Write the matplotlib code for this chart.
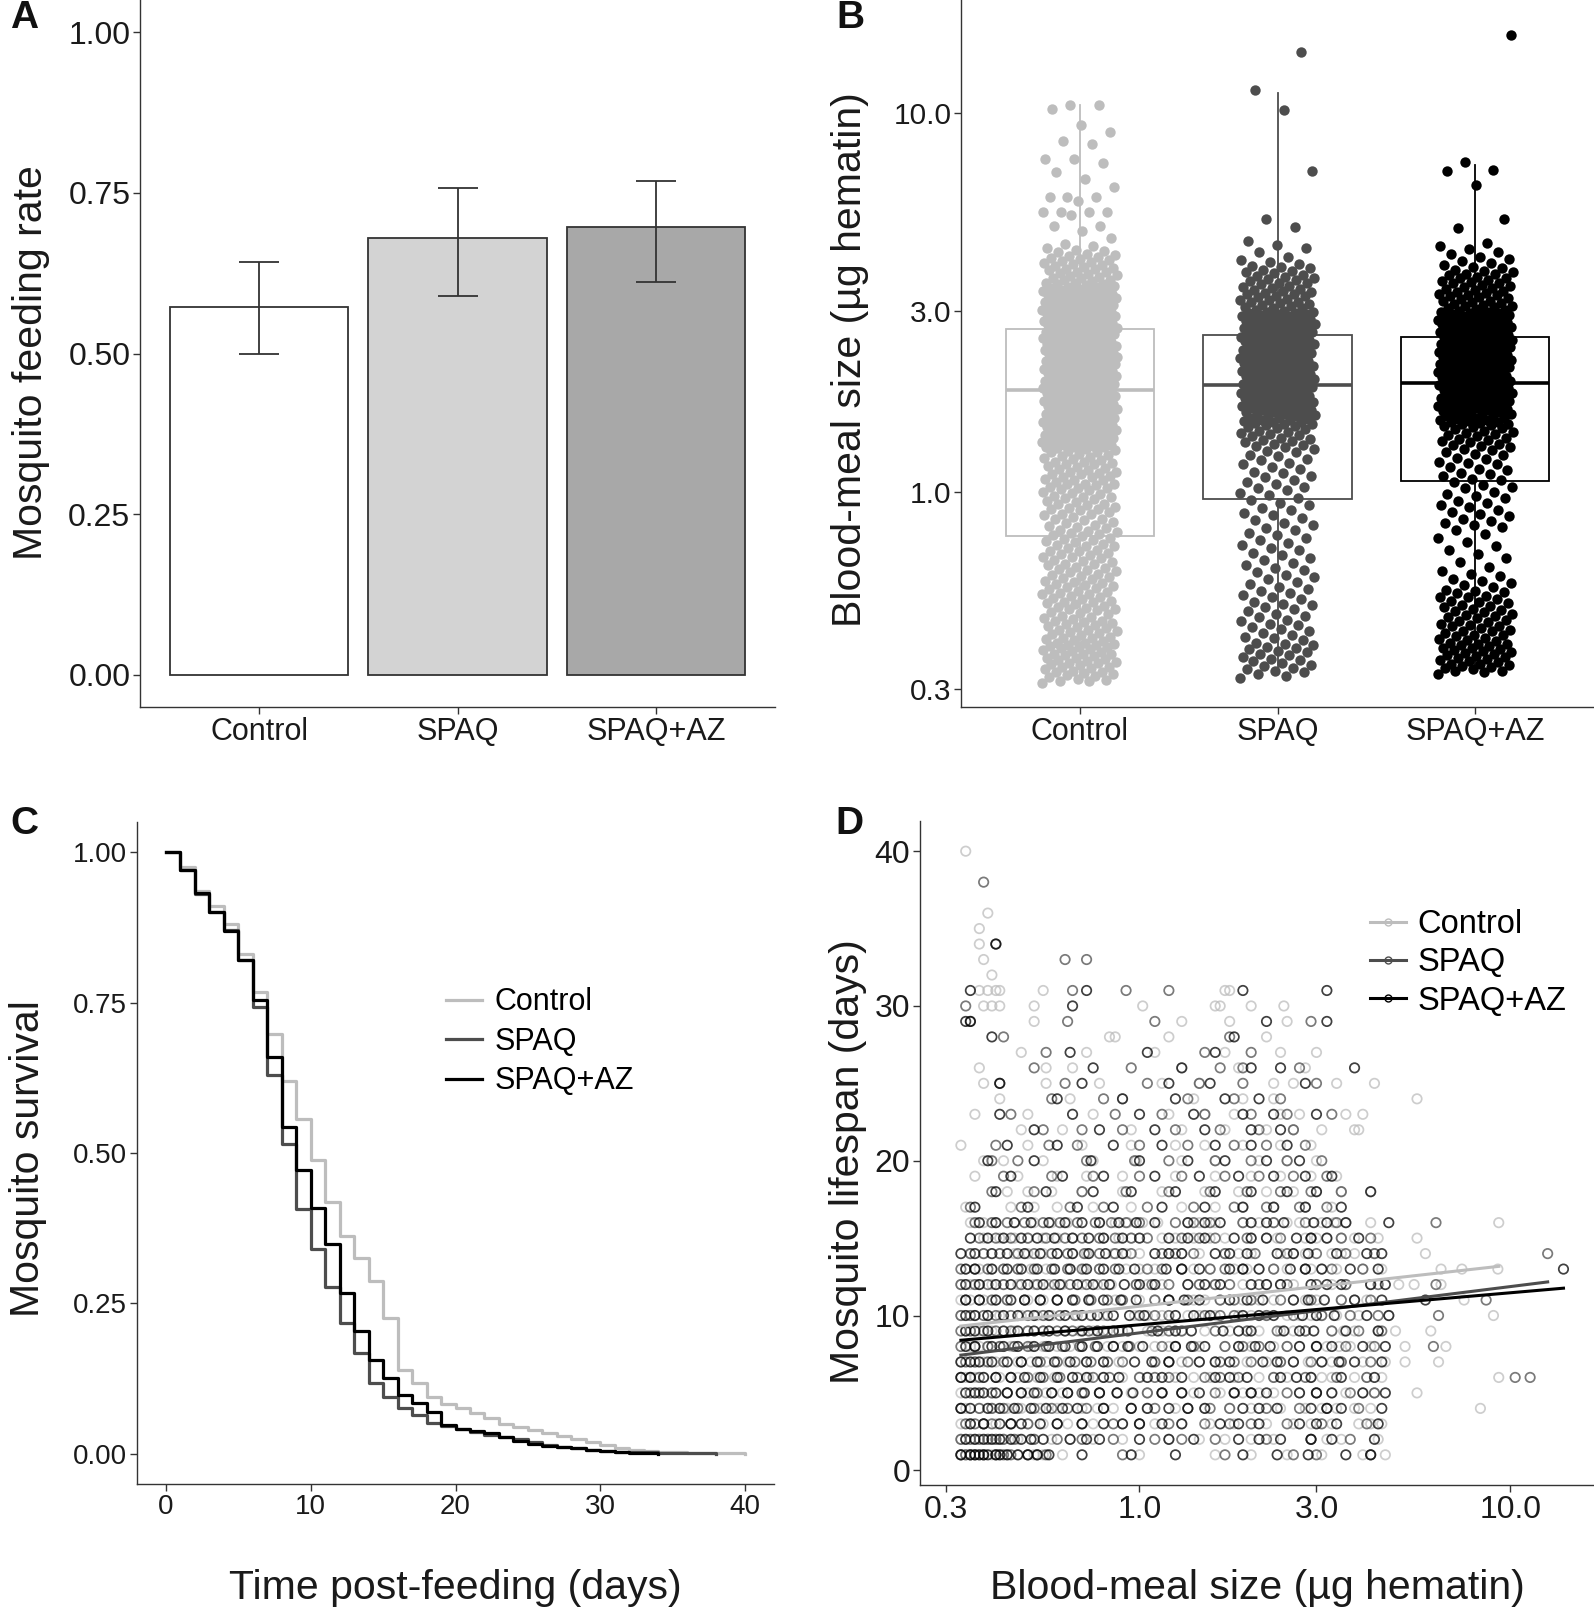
import matplotlib
matplotlib.use("Agg")
import matplotlib.pyplot as plt
from matplotlib.lines import Line2D
import numpy as np

plt.rcParams["font.family"] = ["Liberation Sans", "DejaVu Sans"]

groups = ["Control", "SPAQ", "SPAQ+AZ"]
group_colors = ["#bdbdbd", "#4d4d4d", "#000000"]

# --- A: feeding rate ---
feeding_rate = [0.573, 0.679, 0.697]
feeding_lo = [0.499, 0.590, 0.611]
feeding_hi = [0.642, 0.758, 0.769]
bar_fill = ["#ffffff", "#d3d3d3", "#a8a8a8"]

# --- B: blood-meal size (ug hematin) ---
ctrl_meal = [
    0.311, 0.315, 0.316, 0.318, 0.320, 0.323, 0.325, 0.328, 0.330, 0.332, 0.333, 0.334, 0.336, 0.339,
    0.341, 0.343, 0.344, 0.347, 0.350, 0.352, 0.353, 0.354, 0.356, 0.358, 0.361, 0.363, 0.364, 0.367,
    0.370, 0.371, 0.372, 0.373, 0.376, 0.378, 0.381, 0.383, 0.386, 0.388, 0.389, 0.390, 0.392, 0.394,
    0.395, 0.397, 0.399,
    0.402, 0.404, 0.408, 0.410, 0.411, 0.413, 0.417, 0.420, 0.422, 0.426, 0.429, 0.430, 0.431, 0.435,
    0.438, 0.440, 0.444, 0.447, 0.450, 0.451, 0.454, 0.456, 0.460, 0.463, 0.467, 0.470, 0.474, 0.477,
    0.480, 0.485, 0.488, 0.490, 0.491, 0.495, 0.499, 0.503, 0.507, 0.510, 0.511, 0.514, 0.519, 0.523,
    0.527, 0.531, 0.535, 0.536, 0.540, 0.544, 0.547,
    0.552, 0.555, 0.558, 0.562, 0.567, 0.571, 0.575, 0.577, 0.581, 0.586, 0.592, 0.596, 0.600, 0.601,
    0.607, 0.612, 0.617, 0.620, 0.623, 0.628, 0.633, 0.639, 0.644, 0.645, 0.650, 0.655, 0.661, 0.667,
    0.670, 0.672, 0.679, 0.684, 0.690, 0.695, 0.697, 0.703, 0.709, 0.716, 0.720, 0.722, 0.729, 0.735,
    0.742, 0.745, 0.748,
    0.755, 0.763, 0.770, 0.771, 0.777, 0.780, 0.785, 0.792, 0.801, 0.808, 0.810, 0.816, 0.824, 0.833,
    0.840, 0.846, 0.849, 0.857, 0.866, 0.870, 0.874, 0.883, 0.892, 0.900, 0.901, 0.905, 0.910, 0.919,
    0.928, 0.930, 0.937, 0.946, 0.956, 0.960, 0.965, 0.970, 0.975, 0.984, 0.994,
    1.00, 1.01, 1.015, 1.02, 1.02, 1.03, 1.04, 1.045, 1.05, 1.05, 1.06, 1.07, 1.075, 1.08, 1.09, 1.09,
    1.10, 1.11, 1.115, 1.12, 1.13, 1.13, 1.14, 1.15, 1.155, 1.16, 1.17, 1.18, 1.18, 1.19, 1.195, 1.20,
    1.21, 1.22, 1.23, 1.235, 1.24, 1.25, 1.26, 1.27, 1.275, 1.28, 1.29, 1.30,
    1.305, 1.31, 1.31, 1.315, 1.32, 1.325, 1.33, 1.33, 1.34, 1.345, 1.35, 1.35, 1.355, 1.36, 1.365,
    1.37, 1.375, 1.38, 1.38, 1.39, 1.395, 1.40, 1.405, 1.41, 1.41, 1.42, 1.425, 1.43, 1.435, 1.44,
    1.45, 1.45, 1.455, 1.46, 1.465, 1.47, 1.48, 1.485, 1.49, 1.49, 1.50, 1.505, 1.51, 1.515, 1.52,
    1.53, 1.535, 1.54, 1.545, 1.55, 1.55, 1.56, 1.565, 1.57, 1.58, 1.585, 1.59, 1.60, 1.605, 1.61,
    1.62, 1.62, 1.625, 1.63, 1.64, 1.645, 1.65, 1.655, 1.66, 1.67, 1.675, 1.68, 1.69, 1.695, 1.70,
    1.71, 1.715, 1.72, 1.73, 1.735, 1.74, 1.75, 1.755, 1.76, 1.77, 1.775, 1.78, 1.79, 1.795,
    1.80, 1.81, 1.815, 1.82, 1.83, 1.835, 1.84, 1.85, 1.855, 1.86, 1.87, 1.875, 1.88, 1.89, 1.895,
    1.90, 1.91, 1.915, 1.92, 1.93, 1.935, 1.94, 1.95, 1.955, 1.96, 1.97, 1.975, 1.98, 1.995, 2.00,
    2.01, 2.015, 2.02, 2.03, 2.035, 2.04, 2.05, 2.055, 2.06, 2.075, 2.08, 2.09, 2.095, 2.10, 2.11,
    2.115, 2.12, 2.13, 2.135, 2.14, 2.155, 2.16, 2.17, 2.175, 2.18, 2.19, 2.195, 2.20, 2.21, 2.215,
    2.23, 2.235, 2.24, 2.25, 2.255, 2.26, 2.27, 2.275, 2.28, 2.295, 2.30, 2.31, 2.315, 2.32, 2.33,
    2.335, 2.34, 2.355, 2.36, 2.37, 2.375, 2.38, 2.39, 2.395, 2.40, 2.415, 2.42, 2.43, 2.435, 2.44,
    2.45, 2.455, 2.46, 2.475, 2.48, 2.49, 2.495,
    2.51, 2.52, 2.53, 2.54, 2.545, 2.56, 2.565, 2.57, 2.58, 2.585, 2.59, 2.605, 2.61, 2.62, 2.625,
    2.64, 2.65, 2.66, 2.67, 2.675, 2.68, 2.69, 2.695, 2.71, 2.715, 2.72, 2.735, 2.74, 2.755, 2.76,
    2.775, 2.78, 2.79, 2.795, 2.80, 2.81, 2.82, 2.83, 2.845, 2.85, 2.865, 2.87, 2.885, 2.89, 2.90,
    2.905, 2.91, 2.925, 2.93, 2.945, 2.95, 2.965, 2.97, 2.985, 2.99,
    3.00, 3.01, 3.02, 3.03, 3.04, 3.05, 3.06, 3.07, 3.08, 3.09, 3.10, 3.11, 3.12, 3.13, 3.14, 3.15,
    3.17, 3.18, 3.19, 3.20, 3.21, 3.22, 3.23, 3.24, 3.25, 3.26, 3.27, 3.28, 3.29, 3.30, 3.31, 3.33,
    3.34, 3.35, 3.36, 3.37, 3.38, 3.39, 3.41, 3.42, 3.43, 3.44, 3.46, 3.47, 3.48, 3.50,
    3.51, 3.53, 3.54, 3.56, 3.57, 3.60, 3.62, 3.63, 3.66, 3.68, 3.69, 3.72, 3.74, 3.75, 3.78, 3.80,
    3.81, 3.85, 3.87, 3.88, 3.91, 3.93, 3.95, 3.98, 4.00, 4.02, 4.05, 4.07, 4.09, 4.13, 4.15, 4.17,
    4.20, 4.22, 4.25, 4.30, 4.33, 4.35, 4.40, 4.46, 4.52,
    4.67, 4.90, 5.03, 5.03, 5.40, 5.50, 5.50, 5.50, 5.50, 5.85, 6.00, 6.00, 6.00, 6.40, 6.70, 7.00,
    7.40, 7.57, 7.57, 8.30, 8.45, 8.95, 9.30, 10.3, 10.5, 10.5,
]
spaq_meal = [
    0.322, 0.326, 0.330, 0.333, 0.336, 0.339, 0.342, 0.346, 0.349, 0.352, 0.356, 0.359, 0.362, 0.366,
    0.369, 0.372, 0.376, 0.379, 0.383, 0.386, 0.389, 0.393, 0.396, 0.399,
    0.404, 0.409, 0.413, 0.418, 0.423, 0.428, 0.433, 0.438, 0.443, 0.448, 0.454, 0.459, 0.465, 0.470,
    0.476, 0.482, 0.488, 0.494, 0.500, 0.506, 0.512, 0.519, 0.525, 0.532, 0.538, 0.545,
    0.553, 0.561, 0.569, 0.577, 0.586, 0.594, 0.603, 0.612, 0.621, 0.630, 0.640, 0.649, 0.659, 0.669,
    0.679, 0.690, 0.700, 0.711, 0.722, 0.733, 0.744,
    0.756, 0.767, 0.779, 0.791, 0.803, 0.815, 0.828, 0.840, 0.853, 0.866, 0.880, 0.893, 0.907, 0.921,
    0.935, 0.950, 0.964, 0.979, 0.994,
    1.01, 1.02, 1.03, 1.05, 1.06, 1.07, 1.09, 1.10, 1.12, 1.13, 1.15, 1.16, 1.18, 1.19, 1.21, 1.22,
    1.24, 1.25, 1.27, 1.28, 1.30,
    1.31, 1.32, 1.33, 1.34, 1.35, 1.36, 1.37, 1.38, 1.39, 1.40, 1.41, 1.42, 1.43, 1.44, 1.45, 1.46,
    1.47, 1.48, 1.49, 1.50, 1.505, 1.51, 1.52, 1.525, 1.53, 1.54, 1.545, 1.55, 1.56, 1.565, 1.57,
    1.58, 1.585, 1.59,
    1.60, 1.605, 1.61, 1.62, 1.625, 1.63, 1.64, 1.645, 1.65, 1.66, 1.665, 1.67, 1.68, 1.685, 1.69,
    1.70, 1.705, 1.71, 1.72, 1.725, 1.73, 1.74, 1.745, 1.75, 1.76, 1.765, 1.77, 1.78, 1.785, 1.80,
    1.805, 1.81, 1.82, 1.825, 1.83, 1.84, 1.845, 1.85, 1.86, 1.865, 1.88, 1.885, 1.89, 1.90, 1.905,
    1.91, 1.92, 1.925, 1.94, 1.945, 1.95, 1.96, 1.965, 1.97, 1.985, 1.99, 2.00, 2.005, 2.01, 2.02,
    2.025, 2.04, 2.045, 2.05, 2.06, 2.065, 2.08, 2.085, 2.09, 2.10, 2.105, 2.12, 2.125, 2.13, 2.14,
    2.145, 2.16, 2.165, 2.17, 2.18,
    2.19, 2.20, 2.21, 2.215, 2.23, 2.235, 2.24, 2.25, 2.255, 2.27, 2.275, 2.28, 2.295, 2.30, 2.31,
    2.32, 2.33, 2.34, 2.345, 2.36, 2.365, 2.37, 2.385, 2.39, 2.40, 2.41, 2.42, 2.43, 2.435, 2.45,
    2.455, 2.46, 2.475, 2.48, 2.495, 2.50, 2.51, 2.52, 2.53, 2.54, 2.55, 2.56, 2.57, 2.58, 2.59,
    2.60, 2.61, 2.62, 2.63, 2.64, 2.65, 2.66, 2.67, 2.68, 2.69, 2.70, 2.71, 2.72, 2.73, 2.74, 2.75,
    2.76, 2.77, 2.78, 2.79, 2.80, 2.81, 2.82, 2.83, 2.84, 2.85, 2.86, 2.87, 2.88, 2.89, 2.90, 2.91,
    2.92, 2.93, 2.94, 2.95, 2.96, 2.97, 2.98, 2.99,
    3.00, 3.03, 3.05, 3.06, 3.08, 3.10, 3.12, 3.13, 3.15, 3.17, 3.18, 3.21, 3.22, 3.23, 3.26, 3.28,
    3.29, 3.32, 3.34, 3.35, 3.38, 3.40, 3.41, 3.44, 3.46, 3.47, 3.50, 3.53, 3.55, 3.57, 3.60, 3.62,
    3.64, 3.67, 3.70, 3.71, 3.74, 3.78, 3.80, 3.82, 3.86, 3.90, 3.92, 3.95, 4.00, 4.05, 4.10, 4.16,
    4.30, 4.40, 4.50, 4.60, 5.00, 5.26, 7.06, 10.2, 11.5, 14.5,
]
spaqaz_meal = [
    0.330, 0.333, 0.335, 0.336, 0.339, 0.342, 0.343, 0.345, 0.348, 0.350, 0.351, 0.354, 0.357, 0.358,
    0.360, 0.363, 0.366, 0.368, 0.369, 0.372, 0.375, 0.376, 0.378, 0.381, 0.384, 0.385, 0.387, 0.390,
    0.393, 0.395, 0.396, 0.399,
    0.403, 0.405, 0.407, 0.411, 0.415, 0.417, 0.419, 0.423, 0.427, 0.429, 0.431, 0.435, 0.440, 0.442,
    0.444, 0.448, 0.453, 0.455, 0.457, 0.462, 0.466, 0.468, 0.471, 0.476, 0.480, 0.482, 0.485, 0.490,
    0.495, 0.497,
    0.501, 0.507, 0.510, 0.513, 0.519, 0.525, 0.528, 0.531, 0.538, 0.544, 0.547, 0.551, 0.558, 0.565,
    0.572, 0.580, 0.588, 0.597, 0.606, 0.615,
    0.632, 0.650, 0.668, 0.685, 0.702, 0.720, 0.737, 0.755, 0.772, 0.790, 0.805,
    0.815, 0.826, 0.837, 0.848, 0.860, 0.872, 0.884, 0.896, 0.908, 0.921, 0.934, 0.947, 0.960, 0.973,
    0.987, 1.00, 1.02, 1.03, 1.04,
    1.06, 1.07, 1.08, 1.10, 1.11, 1.12, 1.14, 1.15, 1.16, 1.18, 1.19, 1.20, 1.22, 1.23, 1.25, 1.26,
    1.27, 1.29,
    1.30, 1.31, 1.32, 1.33, 1.34, 1.35, 1.36, 1.37, 1.38, 1.39, 1.40, 1.41, 1.42, 1.43, 1.44, 1.45,
    1.46, 1.47, 1.48, 1.49, 1.50, 1.505, 1.51, 1.52, 1.525, 1.53, 1.54, 1.545, 1.55, 1.56, 1.565,
    1.57, 1.58, 1.585, 1.59,
    1.60, 1.605, 1.61, 1.62, 1.625, 1.63, 1.64, 1.645, 1.65, 1.66, 1.665, 1.67, 1.68, 1.685, 1.69,
    1.70, 1.705, 1.71, 1.72, 1.725, 1.73, 1.74, 1.745, 1.75, 1.76, 1.765, 1.77, 1.78, 1.785, 1.79,
    1.80, 1.805, 1.81, 1.82, 1.825, 1.83, 1.84, 1.845, 1.85, 1.86, 1.865, 1.87, 1.88, 1.885, 1.89,
    1.90, 1.905, 1.91, 1.92, 1.925, 1.93, 1.94, 1.945, 1.95, 1.96, 1.965, 1.97, 1.985, 1.99, 2.00,
    2.005, 2.01, 2.02, 2.025, 2.04, 2.045, 2.05, 2.06, 2.065, 2.08, 2.085, 2.09, 2.10, 2.105, 2.12,
    2.125, 2.13, 2.14, 2.145, 2.16, 2.165, 2.17, 2.18,
    2.19, 2.20, 2.21, 2.215, 2.22, 2.23, 2.235, 2.24, 2.25, 2.255, 2.27, 2.275, 2.28, 2.295, 2.30,
    2.31, 2.32, 2.33, 2.34, 2.345, 2.35, 2.36, 2.365, 2.37, 2.385, 2.39, 2.40, 2.41, 2.42, 2.43,
    2.435, 2.45, 2.455, 2.46, 2.47, 2.475, 2.48, 2.495, 2.50, 2.51, 2.52, 2.53, 2.54, 2.55, 2.56,
    2.57, 2.58, 2.59, 2.60, 2.61, 2.62, 2.625, 2.63, 2.64, 2.65, 2.66, 2.67, 2.68, 2.69, 2.70, 2.71,
    2.72, 2.73, 2.74, 2.75, 2.76, 2.77, 2.78, 2.79, 2.80, 2.81, 2.82, 2.83, 2.84, 2.85, 2.86, 2.87,
    2.88, 2.89, 2.90, 2.91, 2.92, 2.93, 2.94, 2.95, 2.96, 2.97, 2.98, 2.99,
    3.00, 3.02, 3.04, 3.05, 3.07, 3.09, 3.10, 3.12, 3.14, 3.15, 3.17, 3.19, 3.20, 3.23, 3.25, 3.26,
    3.28, 3.30, 3.31, 3.34, 3.36, 3.37, 3.40, 3.42, 3.43, 3.46, 3.48, 3.49, 3.52, 3.55, 3.56, 3.59,
    3.61, 3.62, 3.66, 3.68, 3.69, 3.73, 3.76, 3.77, 3.81, 3.84, 3.85, 3.89, 3.93, 3.97, 4.02, 4.07,
    4.12, 4.18, 4.24, 4.30, 4.37, 4.45, 4.53,
    4.98, 5.26, 6.45, 7.03, 7.10, 7.43, 16.1,
]
meal_whislo = [0.325, 0.33, 0.34]
meal_q1 = [0.764, 0.954, 1.066]
meal_med = [1.86, 1.915, 1.94]
meal_q3 = [2.69, 2.60, 2.57]
meal_whishi = [10.5, 11.3, 7.3]

# --- C: Kaplan-Meier survival ---
ctrl_surv_days = [0, 1, 2, 3, 4, 5, 6, 7, 8, 9, 10, 11, 12, 13, 14, 15, 16, 17, 18, 19, 20,
                  21, 22, 23, 24, 25, 26, 27, 28, 29, 30, 31, 32, 33, 34, 35, 36, 37, 38, 39, 40]
ctrl_surv = [1.00, 0.975, 0.935, 0.91, 0.88, 0.83, 0.767, 0.697, 0.62, 0.557, 0.489, 0.418,
             0.362, 0.326, 0.288, 0.226, 0.14, 0.118, 0.094, 0.083, 0.076, 0.068, 0.06, 0.05,
             0.045, 0.04, 0.034, 0.029, 0.024, 0.019, 0.014, 0.01, 0.007, 0.005, 0.004, 0.003,
             0.002, 0.002, 0.001, 0.001, 0.0]
spaq_surv_days = [0, 1, 2, 3, 4, 5, 6, 7, 8, 9, 10, 11, 12, 13, 14, 15, 16, 17, 18, 19, 20,
                  21, 22, 23, 24, 25, 26, 27, 28, 29, 30, 31, 32, 33, 34, 35, 36, 37, 38]
spaq_surv = [1.00, 0.97, 0.93, 0.90, 0.87, 0.82, 0.742, 0.63, 0.515, 0.407, 0.341, 0.278,
             0.218, 0.167, 0.118, 0.094, 0.076, 0.065, 0.052, 0.046, 0.041, 0.036, 0.032, 0.028,
             0.024, 0.019, 0.014, 0.011, 0.009, 0.007, 0.005, 0.004, 0.003, 0.003, 0.002, 0.002,
             0.001, 0.001, 0.0]
spaqaz_surv_days = [0, 1, 2, 3, 4, 5, 6, 7, 8, 9, 10, 11, 12, 13, 14, 15, 16, 17, 18, 19, 20,
                    21, 22, 23, 24, 25, 26, 27, 28, 29, 30, 31, 32, 33, 34]
spaqaz_surv = [1.00, 0.971, 0.932, 0.90, 0.869, 0.821, 0.755, 0.66, 0.543, 0.471, 0.409, 0.348,
               0.268, 0.204, 0.156, 0.126, 0.098, 0.085, 0.069, 0.048, 0.042, 0.038, 0.034, 0.028,
               0.022, 0.017, 0.013, 0.011, 0.009, 0.007, 0.005, 0.003, 0.002, 0.001, 0.0]

# --- D: lifespan (days) vs blood-meal size, rows of (lifespan, sizes) ---
ctrl_life = [
    (1, [0.33, 0.34, 0.35, 0.37, 0.40, 0.42, 0.44, 0.47, 0.50, 0.52, 0.55, 0.62, 1.0, 1.6, 2.0,
         2.5, 3.1, 4.0, 4.6]),
    (2, [0.33, 0.34, 0.36, 0.39, 0.41, 0.43, 0.47, 0.52, 0.58, 0.65, 0.75, 0.9, 1.2, 1.45, 1.7,
         2.0, 2.3, 2.9, 3.2, 3.5, 4.4]),
    (3, [0.33, 0.35, 0.38, 0.41, 0.45, 0.50, 0.55, 0.64, 0.75, 0.9, 1.1, 1.3, 1.55, 1.8, 2.2,
         2.6, 2.9, 3.3, 3.9, 4.2, 4.5]),
    (4, [0.34, 0.37, 0.40, 0.44, 0.48, 0.54, 0.60, 0.70, 0.77, 0.85, 1.05, 1.25, 1.5, 1.75, 2.0,
         2.4, 2.8, 3.1, 3.4, 3.8, 4.2, 8.3]),
    (5, [0.33, 0.37, 0.40, 0.44, 0.50, 0.56, 0.62, 0.70, 0.78, 0.95, 1.05, 1.15, 1.4, 1.65, 1.9,
         2.1, 2.3, 2.7, 3.0, 3.3, 3.6, 4.0, 4.3, 5.6]),
    (6, [0.34, 0.36, 0.38, 0.42, 0.47, 0.53, 0.59, 0.66, 0.73, 0.80, 0.9, 1.0, 1.25, 1.4, 1.55,
         1.8, 2.1, 2.3, 2.5, 2.9, 3.1, 3.3, 3.8, 4.1, 4.5, 9.3]),
    (7, [0.33, 0.36, 0.38, 0.41, 0.47, 0.51, 0.56, 0.64, 0.72, 0.80, 0.88, 1.1, 1.2, 1.3, 1.45,
         1.6, 1.95, 2.2, 2.4, 2.6, 2.85, 3.1, 3.3, 3.5, 4.0, 4.6, 5.2, 6.4]),
    (8, [0.35, 0.37, 0.39, 0.42, 0.45, 0.51, 0.55, 0.60, 0.65, 0.70, 0.82, 0.9, 1.0, 1.1, 1.2,
         1.45, 1.7, 1.85, 2.0, 2.3, 2.5, 2.7, 3.2, 3.45, 3.7, 4.2, 5.2, 6.7]),
    (9, [0.34, 0.37, 0.40, 0.46, 0.50, 0.55, 0.63, 0.69, 0.75, 0.82, 0.90, 1.05, 1.15, 1.3, 1.5,
         1.75, 1.95, 2.1, 2.4, 2.6, 2.8, 3.3, 3.55, 3.8, 4.4, 4.9, 6.1]),
    (10, [0.33, 0.36, 0.39, 0.42, 0.48, 0.53, 0.58, 0.68, 0.74, 0.80, 0.97, 1.05, 1.15, 1.35, 1.45,
          1.6, 1.85, 2.0, 2.2, 2.5, 2.7, 2.9, 3.1, 3.4, 3.9, 4.7, 9.0]),
    (11, [0.33, 0.35, 0.38, 0.41, 0.44, 0.50, 0.55, 0.60, 0.66, 0.73, 0.86, 1.0, 1.1, 1.2, 1.4,
          1.5, 1.65, 1.9, 2.1, 2.3, 2.6, 2.8, 3.0, 3.5, 3.8, 4.1, 7.5]),
    (12, [0.33, 0.35, 0.37, 0.40, 0.43, 0.47, 0.52, 0.57, 0.62, 0.70, 0.77, 0.84, 0.98, 1.05, 1.15,
          1.35, 1.45, 1.6, 1.9, 2.2, 2.4, 2.6, 3.0, 3.3, 3.6, 4.2, 5.0, 5.5, 6.5]),
    (13, [0.34, 0.37, 0.40, 0.43, 0.47, 0.51, 0.56, 0.65, 0.71, 0.78, 0.92, 1.0, 1.1, 1.3, 1.4,
          1.55, 1.8, 1.95, 2.1, 2.3, 2.5, 2.9, 3.1, 3.4, 4.0, 4.5, 6.5, 7.4, 9.25]),
    (14, [0.35, 0.38, 0.42, 0.46, 0.50, 0.55, 0.60, 0.66, 0.72, 0.85, 0.92, 1.0, 1.2, 1.3, 1.45,
          1.7, 1.85, 2.0, 2.4, 2.6, 2.8, 3.3, 3.5, 3.8, 4.3, 5.9]),
    (15, [0.38, 0.42, 0.46, 0.50, 0.55, 0.60, 0.66, 0.80, 0.88, 0.95, 1.15, 1.25, 1.4, 1.55, 1.7,
          2.0, 2.2, 2.35, 2.8, 3.0, 3.2, 3.5, 3.8, 4.4, 5.6]),
    (16, [0.35, 0.38, 0.41, 0.46, 0.52, 0.58, 0.64, 0.78, 0.86, 0.93, 1.02, 1.12, 1.35, 1.45, 1.6,
          1.9, 2.1, 2.3, 2.5, 2.7, 3.1, 3.35, 3.6, 4.2, 9.3]),
    (17, [0.34, 0.45, 0.52, 0.60, 0.75, 0.95, 1.3, 1.6, 1.9, 2.3, 2.8, 3.3]),
    (18, [0.44, 0.50, 0.58, 0.70, 0.90, 1.15, 1.5, 1.85, 2.2, 2.6, 3.0, 3.5, 4.2]),
    (19, [0.36, 0.47, 0.60, 0.72, 0.90, 1.25, 1.6, 2.0, 2.4, 2.9, 3.4]),
    (20, [0.38, 0.43, 0.55, 0.75, 0.98, 1.3, 1.6, 2.1, 2.5, 3.0]),
    (21, [0.33, 0.50, 0.70, 0.95, 1.25, 1.5, 1.9, 2.4, 2.9]),
    (22, [0.48, 0.62, 0.95, 1.3, 1.7, 2.2, 2.6, 3.1, 3.8, 3.9]),
    (23, [0.36, 0.50, 0.75, 1.2, 1.5, 1.8, 2.4, 2.7, 3.6, 4.0]),
    (24, [0.42, 0.65, 0.90, 1.4, 1.9, 2.3, 5.6]),
    (25, [0.38, 0.56, 0.78, 1.15, 1.45, 2.3, 2.6, 3.4, 4.3]),
    (26, [0.37, 0.56, 0.66, 1.3, 1.85, 2.8]),
    (27, [0.48, 0.72, 1.1, 1.7, 2.4, 3.0]),
    (28, [0.83, 0.86, 1.2, 2.2]),
    (29, [0.52, 1.3, 1.75, 2.5]),
    (30, [0.38, 0.40, 0.42, 0.52, 1.02, 1.6, 1.65, 2.0, 2.45]),
    (31, [0.37, 0.39, 0.41, 0.42, 0.55, 1.7, 1.75]),
    (32, [0.40]),
    (33, [0.38]),
    (34, [0.37]),
    (35, [0.37]),
    (36, [0.39]),
    (40, [0.34]),
]
spaq_life = [
    (1, [0.33, 0.34, 0.35, 0.36, 0.38, 0.41, 0.43, 0.45, 0.50, 0.53, 0.56, 0.9, 1.7, 2.6, 3.0, 4.2]),
    (2, [0.33, 0.35, 0.37, 0.39, 0.41, 0.43, 0.46, 0.52, 0.60, 0.70, 0.85, 1.1, 1.3, 1.6, 2.2,
         2.9, 3.7]),
    (3, [0.34, 0.36, 0.38, 0.40, 0.45, 0.50, 0.60, 0.70, 0.85, 1.0, 1.2, 1.5, 1.75, 2.0, 2.5,
         3.1, 4.1]),
    (4, [0.33, 0.37, 0.40, 0.43, 0.47, 0.52, 0.58, 0.64, 0.72, 0.80, 0.95, 1.1, 1.35, 1.55, 1.75,
         2.2, 2.7, 3.2, 3.9]),
    (5, [0.35, 0.37, 0.40, 0.44, 0.48, 0.53, 0.58, 0.64, 0.70, 0.78, 0.87, 1.05, 1.15, 1.3, 1.6,
         1.8, 2.0, 2.5, 3.0, 3.7, 4.3]),
    (6, [0.33, 0.35, 0.37, 0.41, 0.45, 0.50, 0.55, 0.61, 0.68, 0.75, 0.83, 1.0, 1.1, 1.2, 1.5,
         1.65, 1.85, 2.3, 2.8, 3.4, 4.1, 10.3, 11.3]),
    (7, [0.34, 0.36, 0.39, 0.43, 0.48, 0.54, 0.60, 0.67, 0.74, 0.82, 0.90, 1.1, 1.2, 1.35, 1.65,
         1.8, 2.0, 2.4, 2.9, 3.5, 4.2]),
    (8, [0.33, 0.36, 0.39, 0.42, 0.46, 0.50, 0.56, 0.62, 0.69, 0.76, 0.85, 0.94, 1.15, 1.25, 1.4,
         1.7, 1.9, 2.1, 2.5, 3.0, 3.6, 4.3, 6.2]),
    (9, [0.33, 0.35, 0.38, 0.41, 0.45, 0.50, 0.55, 0.60, 0.66, 0.73, 0.80, 0.88, 1.08, 1.2, 1.3,
         1.6, 1.95, 2.35, 2.8, 3.3, 3.9, 4.5]),
    (10, [0.33, 0.35, 0.38, 0.41, 0.45, 0.50, 0.55, 0.61, 0.67, 0.74, 0.82, 1.0, 1.1, 1.2, 1.5,
          1.65, 1.8, 2.2, 2.6, 3.1, 3.7, 4.4, 6.4]),
    (11, [0.34, 0.37, 0.40, 0.44, 0.49, 0.54, 0.60, 0.67, 0.74, 0.82, 0.90, 1.1, 1.2, 1.35, 1.65,
          1.8, 2.0, 2.4, 2.9, 3.5, 4.2, 8.6]),
    (12, [0.33, 0.36, 0.39, 0.43, 0.48, 0.53, 0.59, 0.65, 0.72, 0.80, 0.98, 1.08, 1.2, 1.45, 1.6,
          1.75, 2.1, 2.5, 3.0, 3.6, 4.4, 6.3]),
    (13, [0.33, 0.36, 0.39, 0.43, 0.47, 0.52, 0.58, 0.64, 0.70, 0.78, 0.86, 1.05, 1.15, 1.3, 1.55,
          1.7, 1.9, 2.3, 2.8, 3.3, 4.0]),
    (14, [0.35, 0.38, 0.42, 0.47, 0.52, 0.58, 0.64, 0.71, 0.78, 0.86, 0.95, 1.15, 1.25, 1.4, 1.7,
          2.05, 2.5, 3.0, 3.6, 4.3, 12.6]),
    (15, [0.37, 0.41, 0.45, 0.50, 0.56, 0.63, 0.70, 0.78, 0.86, 0.95, 1.05, 1.3, 1.45, 1.6, 1.95,
          2.4, 2.9, 3.5, 4.2]),
    (16, [0.36, 0.40, 0.44, 0.49, 0.55, 0.61, 0.68, 0.76, 0.84, 0.92, 1.0, 1.25, 1.4, 1.55, 1.9,
          2.3, 2.8, 3.4, 6.3]),
    (17, [0.35, 0.48, 0.65, 0.80, 1.05, 1.4, 1.8, 2.2, 2.7, 3.2]),
    (18, [0.40, 0.52, 0.70, 0.92, 1.2, 1.55, 1.95, 2.4, 2.9, 3.5]),
    (19, [0.43, 0.58, 0.75, 1.0, 1.3, 1.7, 2.1, 2.6, 3.2]),
    (20, [0.40, 0.47, 0.72, 0.97, 1.2, 1.6, 2.0, 2.5, 3.1]),
    (21, [0.41, 0.57, 0.68, 1.0, 1.35, 1.8, 2.2, 2.8]),
    (22, [0.55, 0.70, 0.90, 1.25, 1.65, 2.1, 2.6]),
    (23, [0.45, 0.86, 1.15, 1.5, 2.0, 2.5, 3.3]),
    (24, [0.58, 0.80, 1.35, 1.8, 2.4]),
    (25, [0.42, 0.63, 1.05, 1.45, 1.9, 3.0]),
    (26, [0.52, 0.95, 1.65, 1.9, 2.7]),
    (27, [0.56, 1.5, 2.0]),
    (28, [0.43, 1.75]),
    (29, [0.35, 0.64, 1.1, 2.9]),
    (30, [0.34]),
    (31, [0.66, 0.92, 1.2]),
    (33, [0.63, 0.72]),
    (34, [0.41]),
    (38, [0.38]),
]
spaqaz_life = [
    (1, [0.33, 0.35, 0.36, 0.37, 0.38, 0.39, 0.41, 0.42, 0.44, 0.47, 0.50, 0.53, 0.57, 0.70, 0.95,
         1.25, 1.9, 2.35, 2.85, 3.6, 4.2]),
    (2, [0.34, 0.36, 0.38, 0.40, 0.42, 0.45, 0.48, 0.51, 0.55, 0.65, 0.72, 0.78, 1.0, 1.2, 1.4,
         1.85, 2.1, 2.4, 2.9, 3.3, 4.3]),
    (3, [0.35, 0.38, 0.42, 0.45, 0.48, 0.54, 0.60, 0.70, 0.80, 0.9, 1.0, 1.15, 1.3, 1.65, 1.85,
         2.1, 2.7, 3.0, 3.4, 4.4]),
    (4, [0.33, 0.35, 0.39, 0.42, 0.46, 0.51, 0.56, 0.62, 0.68, 0.80, 0.95, 1.05, 1.2, 1.35, 1.5,
         1.9, 2.1, 2.35, 2.9, 3.2, 3.5, 4.5]),
    (5, [0.34, 0.36, 0.38, 0.41, 0.44, 0.48, 0.52, 0.58, 0.64, 0.71, 0.78, 0.87, 0.96, 1.15, 1.3,
         1.45, 1.8, 2.0, 2.2, 2.7, 3.0, 3.3, 4.0, 4.6]),
    (6, [0.33, 0.35, 0.38, 0.41, 0.45, 0.49, 0.54, 0.60, 0.66, 0.72, 0.80, 0.88, 1.05, 1.15, 1.3,
         1.6, 1.75, 1.95, 2.4, 2.65, 2.9, 3.5, 4.3]),
    (7, [0.33, 0.35, 0.37, 0.40, 0.44, 0.48, 0.53, 0.59, 0.65, 0.72, 0.80, 0.97, 1.08, 1.2, 1.45,
         1.6, 1.75, 2.15, 2.35, 2.6, 3.1, 3.45, 3.8, 4.5]),
    (8, [0.34, 0.36, 0.40, 0.43, 0.47, 0.52, 0.57, 0.63, 0.70, 0.77, 0.85, 0.93, 1.02, 1.25, 1.38,
         1.5, 1.85, 2.05, 2.25, 2.7, 3.0, 3.3, 4.0, 4.6]),
    (9, [0.34, 0.36, 0.39, 0.43, 0.47, 0.52, 0.57, 0.63, 0.70, 0.77, 0.85, 0.93, 1.12, 1.25, 1.38,
         1.68, 1.85, 2.0, 2.45, 2.7, 2.95, 3.6, 4.4]),
    (10, [0.34, 0.36, 0.39, 0.43, 0.47, 0.52, 0.57, 0.63, 0.70, 0.77, 0.85, 0.94, 1.03, 1.25, 1.4,
          1.55, 1.9, 2.1, 2.3, 2.75, 3.0, 3.35, 4.1, 4.7]),
    (11, [0.34, 0.37, 0.41, 0.45, 0.49, 0.54, 0.60, 0.66, 0.73, 0.80, 0.89, 0.98, 1.2, 1.32, 1.45,
          1.75, 1.95, 2.15, 2.6, 2.85, 3.15, 3.8, 4.5, 5.9]),
    (12, [0.34, 0.37, 0.41, 0.45, 0.50, 0.55, 0.61, 0.68, 0.75, 0.83, 0.91, 1.0, 1.1, 1.35, 1.5,
          1.65, 2.0, 2.2, 2.4, 2.9, 3.2, 3.5, 4.2, 4.6]),
    (13, [0.34, 0.36, 0.40, 0.44, 0.48, 0.53, 0.59, 0.65, 0.72, 0.80, 0.88, 0.97, 1.18, 1.3, 1.45,
          1.75, 1.9, 2.1, 2.55, 2.8, 3.1, 3.7, 4.4, 13.9]),
    (14, [0.33, 0.36, 0.40, 0.44, 0.49, 0.54, 0.60, 0.66, 0.73, 0.81, 0.90, 1.1, 1.2, 1.3, 1.6,
          1.75, 1.95, 2.35, 2.6, 2.85, 3.4, 4.1, 4.5]),
    (15, [0.35, 0.39, 0.43, 0.48, 0.53, 0.59, 0.66, 0.73, 0.80, 0.90, 1.0, 1.2, 1.35, 1.5, 1.8,
          2.0, 2.2, 2.65, 2.9, 3.2, 3.9]),
    (16, [0.37, 0.41, 0.46, 0.51, 0.57, 0.63, 0.70, 0.78, 0.88, 0.98, 1.1, 1.35, 1.5, 1.65, 2.0,
          2.2, 2.45, 2.95, 3.2, 3.6, 4.7]),
    (17, [0.36, 0.50, 0.68, 0.85, 1.15, 1.5, 1.9, 2.3, 2.8, 3.5]),
    (18, [0.41, 0.56, 0.75, 0.95, 1.25, 1.6, 2.0, 2.5, 3.0, 4.2]),
    (19, [0.45, 0.62, 0.80, 1.1, 1.45, 1.85, 2.3, 2.8, 3.3]),
    (20, [0.39, 0.52, 0.74, 1.0, 1.35, 1.7, 2.2, 2.7]),
    (21, [0.44, 0.60, 0.85, 1.15, 1.6, 2.0, 2.5]),
    (22, [0.52, 0.78, 1.1, 1.5, 2.0, 2.4]),
    (23, [0.42, 0.66, 1.0, 1.4, 1.9, 2.3, 3.0]),
    (24, [0.60, 0.90, 1.25, 1.7, 2.1]),
    (25, [0.42, 0.70, 1.2, 1.55, 2.8]),
    (26, [0.75, 1.3, 2.0, 2.4, 3.8]),
    (27, [0.65, 1.05, 1.6]),
    (28, [0.40, 1.8]),
    (29, [0.34, 0.35, 2.2, 3.2]),
    (30, [0.66]),
    (31, [0.35, 0.72, 1.9, 3.2]),
    (34, [0.41]),
]
# linear fits: lifespan = intercept + slope * log10(size)
fit_intercept = [10.60, 8.88, 9.40]
fit_slope = [2.66, 2.99, 2.07]

TITLE_SIZE = 29.5
W, H = 1594, 1616
AXIS_COLOR = "#333333"
TEXT_COLOR = "#1a1a1a"


def style_axes(ax, tick_size):
    for side in ("top", "right"):
        ax.spines[side].set_visible(False)
    for side in ("left", "bottom"):
        ax.spines[side].set_color(AXIS_COLOR)
        ax.spines[side].set_linewidth(1.0)
    ax.tick_params(length=5, width=1.0, color=AXIS_COLOR, labelcolor=TEXT_COLOR,
                   labelsize=tick_size, pad=2)
    ax.tick_params(which="minor", length=0)


def spread(n, width=0.19):
    # deterministic horizontal spread standing in for ggplot's jitter
    return ((np.arange(n) * 0.6180339887) % 1.0 - 0.5) * 2 * width


def rows_to_points(rows):
    sizes = np.array([s for day, vals in rows for s in vals])
    days = np.array([day for day, vals in rows for s in vals])
    return sizes, days


fig = plt.figure(figsize=(W / 100, H / 100), dpi=100)


def px_axes(left, top, right, bottom):
    return fig.add_axes([left / W, 1 - bottom / H, (right - left) / W, (bottom - top) / H])


ax_a = px_axes(140, 0, 775, 707)
ax_b = px_axes(961, 0, 1594, 707)
ax_c = px_axes(137, 822, 774, 1484)
ax_d = px_axes(920, 821, 1594, 1485)

# A
pos = np.arange(1, 4)
rate = np.array(feeding_rate)
ax_a.bar(pos, rate, width=0.9, color=bar_fill, edgecolor=AXIS_COLOR, linewidth=1.3, zorder=2)
ax_a.errorbar(pos, rate, yerr=[rate - np.array(feeding_lo), np.array(feeding_hi) - rate],
              fmt="none", ecolor=AXIS_COLOR, elinewidth=1.3, capsize=14.3, capthick=1.3, zorder=3)
ax_a.set_xlim(0.4, 3.6)
ax_a.set_ylim(-0.05, 1.05)
ax_a.set_yticks([0, 0.25, 0.5, 0.75, 1.0])
ax_a.set_yticklabels(["0.00", "0.25", "0.50", "0.75", "1.00"])
ax_a.set_xticks(pos)
ax_a.set_xticklabels(groups)
style_axes(ax_a, 23)
ax_a.tick_params(axis="x", labelsize=22)
ax_a.set_ylabel("Mosquito feeding rate", fontsize=TITLE_SIZE, color=TEXT_COLOR)
ax_a.yaxis.set_label_coords(-0.1425, 0.487)

# B
meal_sets = [ctrl_meal, spaq_meal, spaqaz_meal]
for i in range(3):
    c = group_colors[i]
    stats = dict(whislo=meal_whislo[i], q1=meal_q1[i], med=meal_med[i],
                 q3=meal_q3[i], whishi=meal_whishi[i], fliers=[])
    ax_b.bxp([stats], positions=[i + 1], widths=0.75, showfliers=False, showcaps=False,
             patch_artist=True,
             boxprops=dict(facecolor="white", edgecolor=c, linewidth=1.3),
             whiskerprops=dict(color=c, linewidth=1.3),
             medianprops=dict(color=c, linewidth=2.6),
             zorder=1)
for i, vals in enumerate(meal_sets):
    vals = np.sort(np.array(vals))
    ax_b.scatter(i + 1 + spread(len(vals)), vals, s=56, color=group_colors[i],
                 linewidths=0, zorder=3)
ax_b.set_yscale("log")
ax_b.set_ylim(0.2695, 19.94)
ax_b.set_xlim(0.4, 3.6)
ax_b.set_yticks([0.3, 1.0, 3.0, 10.0])
ax_b.set_yticklabels(["0.3", "1.0", "3.0", "10.0"])
ax_b.set_xticks(pos)
ax_b.set_xticklabels(groups)
style_axes(ax_b, 21.5)
ax_b.tick_params(axis="x", labelsize=22)
ax_b.set_ylabel("Blood-meal size (\u00b5g hematin)", fontsize=TITLE_SIZE, color=TEXT_COLOR)
ax_b.yaxis.set_label_coords(-0.146, 0.491)

# C
surv_sets = [(ctrl_surv_days, ctrl_surv), (spaq_surv_days, spaq_surv),
             (spaqaz_surv_days, spaqaz_surv)]
for i, (days, surv) in enumerate(surv_sets):
    ax_c.step(days, surv, where="post", color=group_colors[i], linewidth=2.3, label=groups[i])
ax_c.set_xlim(-2, 42)
ax_c.set_ylim(-0.05, 1.05)
ax_c.set_xticks([0, 10, 20, 30, 40])
ax_c.set_yticks([0, 0.25, 0.5, 0.75, 1.0])
ax_c.set_yticklabels(["0.00", "0.25", "0.50", "0.75", "1.00"])
style_axes(ax_c, 20)
ax_c.set_ylabel("Mosquito survival", fontsize=TITLE_SIZE, color=TEXT_COLOR)
ax_c.yaxis.set_label_coords(-0.142, 0.491)
ax_c.set_xlabel("Time post-feeding (days)", fontsize=TITLE_SIZE, color=TEXT_COLOR)
ax_c.xaxis.set_label_coords(0.5, -0.128)
ax_c.legend(loc="upper left", bbox_to_anchor=(0.485, 0.750), frameon=False, fontsize=22,
            handlelength=1.18, handletextpad=0.42, labelspacing=0.31, borderpad=0,
            borderaxespad=0)

# D
life_sets = [ctrl_life, spaq_life, spaqaz_life]
for i, rows in enumerate(life_sets):
    sizes, days = rows_to_points(rows)
    ax_d.scatter(sizes, days, s=46, facecolors="none", edgecolors=group_colors[i],
                 linewidths=1.25, alpha=0.75, zorder=2)
for i, rows in enumerate(life_sets):
    sizes, days = rows_to_points(rows)
    xs = np.array([sizes.min(), sizes.max()])
    ys = fit_intercept[i] + fit_slope[i] * np.log10(xs)
    ax_d.plot(xs, ys, color=group_colors[i], linewidth=2.2, zorder=3)
ax_d.set_xscale("log")
ax_d.set_xlim(0.256, 16.8)
ax_d.set_ylim(-0.95, 41.95)
ax_d.set_xticks([0.3, 1.0, 3.0, 10.0])
ax_d.set_xticklabels(["0.3", "1.0", "3.0", "10.0"])
ax_d.set_yticks([0, 10, 20, 30, 40])
style_axes(ax_d, 23)
ax_d.set_ylabel("Mosquito lifespan (days)", fontsize=TITLE_SIZE, color=TEXT_COLOR)
ax_d.yaxis.set_label_coords(-0.078, 0.487)
ax_d.set_xlabel("Blood-meal size (\u00b5g hematin)", fontsize=TITLE_SIZE, color=TEXT_COLOR)
ax_d.xaxis.set_label_coords(0.5, -0.127)
handles = [Line2D([], [], color=group_colors[i], linewidth=2.2, marker="o", markersize=5,
                  markerfacecolor="none", markeredgewidth=1.0) for i in range(3)]
ax_d.legend(handles, groups, loc="upper left", bbox_to_anchor=(0.668, 0.867), frameon=False,
            fontsize=23.5, handlelength=1.1, handletextpad=0.34, labelspacing=0.22,
            borderpad=0, borderaxespad=0)

# panel letters
for letter, x, y in [("A", 10, 0), ("B", 836, 0), ("C", 10, 806), ("D", 835, 806)]:
    fig.text(x / W, 1 - y / H, letter, ha="left", va="top", fontsize=28, fontweight="bold",
             color="#111111")

fig.savefig("out.png", dpi=100)
plt.close(fig)
